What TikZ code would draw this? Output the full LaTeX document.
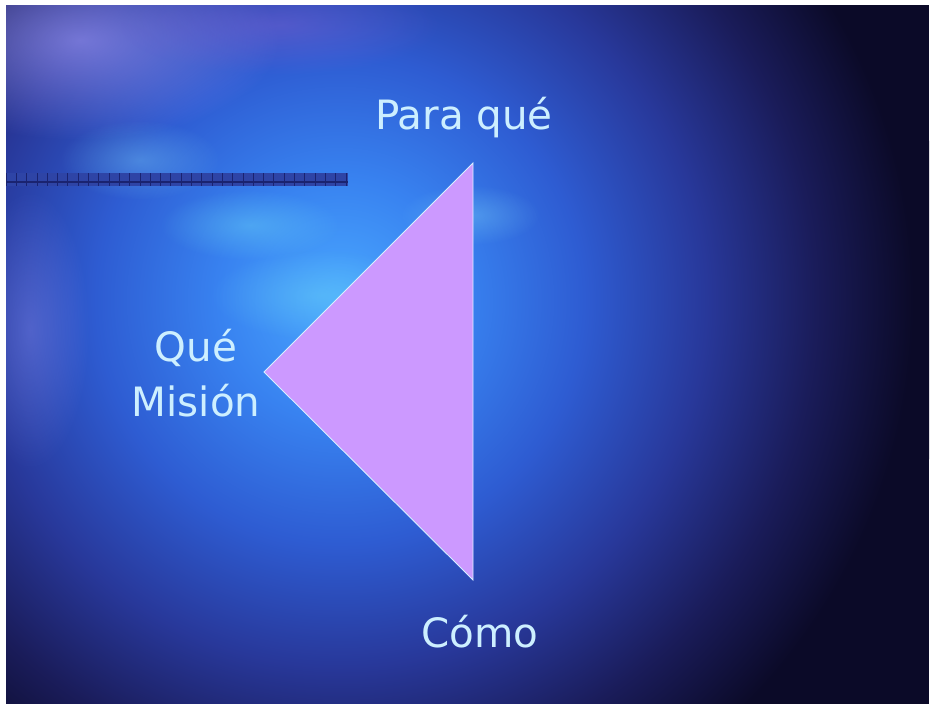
\documentclass[tikz,border=0pt]{standalone}
\usepackage{fontspec}
\setmainfont{DejaVu Sans}
\usetikzlibrary{fadings}

\definecolor{navy}{HTML}{0B0A28}
\definecolor{glowa}{HTML}{4AA8FF}
\definecolor{glowb}{HTML}{3882F0}
\definecolor{glowc}{HTML}{2E5CD2}
\definecolor{glowd}{HTML}{28389A}
\definecolor{glowe}{HTML}{1A1C5A}
\definecolor{barblue}{HTML}{2E44A6}
\definecolor{barline}{HTML}{1A2370}
\definecolor{trifill}{HTML}{CC99FF}
\definecolor{triedge}{HTML}{D8F0FF}
\definecolor{txt}{HTML}{CDEFFF}
\definecolor{lavender}{HTML}{A8A0FF}

\pgfdeclareradialshading{glow}{\pgfpoint{0bp}{0bp}}{color(0bp)=(glowa); color(5bp)=(glowb); color(10bp)=(glowc); color(15bp)=(glowd); color(19.5bp)=(glowe); color(23.5bp)=(navy); color(50bp)=(navy)}
\tikzfading[name=softspot, inner color=transparent!0, outer color=transparent!100]

\tikzset{
  lbl/.style={text=txt, font=\fontsize{23}{28}\selectfont, inner sep=0pt},
  spot/.style={path fading=softspot, fill=#1}
}

\begin{document}
\begin{tikzpicture}[x=0.02cm, y=-0.02cm]
    \useasboundingbox (0,0) rectangle (931,704);
    \fill[white] (0,0) rectangle (931,704);

    % background glow
    \begin{scope}
        \clip (6,5) rectangle (929,704);
        \fill[navy] (6,5) rectangle (929,704);
        \shade[shading=glow] (340,300) circle (610);
        \fill[spot=lavender, opacity=0.6] (80,40) ellipse (200 and 100);
        \fill[spot=violet!50!blue!60!white, opacity=0.4] (280,25) ellipse (160 and 50);
        \fill[spot=cyan!60!white, opacity=0.45] (320,295) ellipse (110 and 45);
        \fill[spot=cyan!60!white, opacity=0.45] (250,225) ellipse (90 and 35);
        \fill[spot=cyan!50!white, opacity=0.35] (140,160) ellipse (80 and 40);
        \fill[spot=cyan!50!white, opacity=0.35] (470,215) ellipse (70 and 30);
        \fill[spot=lavender, opacity=0.3] (30,330) ellipse (60 and 140);
    \end{scope}

    % bar
    \fill[barblue] (6,173) rectangle (348,186);
    \foreach \x in {6,16.3,...,348}
        \draw[barline, line width=0.4pt] (\x,173) -- (\x,186);
    \draw[barline, line width=0.6pt] (6,182) -- (348,182);

    % triangle
    \coordinate (top) at (473,163);
    \coordinate (left) at (264,372);
    \coordinate (bottom) at (473,580);
    \filldraw[fill=trifill, draw=triedge, line width=0.5pt] (top) -- (left) -- (bottom) -- cycle;

    \node[lbl] (paraque) at (464,118) {Para qué};
    \node[lbl] (que) at (196,348) {Qué};
    \node[lbl] (mision) at (196,401) {Misión};
    \node[lbl] (como) at (480,632) {Cómo};
\end{tikzpicture}
\end{document}
